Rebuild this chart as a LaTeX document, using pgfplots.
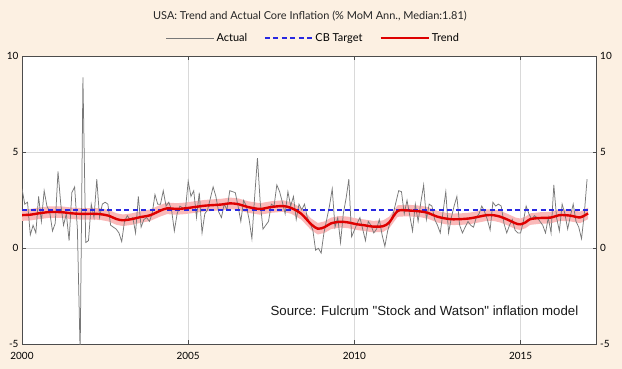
\documentclass[border=0pt]{standalone}
\usepackage{pgfplots}
\pgfplotsset{compat=1.18}
\usepackage{pgfplotstable}
\usepgfplotslibrary{fillbetween}
\usepackage{fontspec}
\setmainfont{Lato}
\newfontfamily\srcfont{Liberation Sans}
\definecolor{bgc}{RGB}{252,240,226}
\definecolor{actc}{RGB}{120,120,120}
\definecolor{tgtc}{RGB}{40,40,225}
\definecolor{trdc}{RGB}{222,0,0}
\definecolor{bandc}{RGB}{250,185,185}
\pagecolor{bgc}

\pgfplotstableread{
m v
0 3.1
1 2.3
2 2.4
3 0.7
4 1.2
5 0.8
6 2.7
7 1.4
8 3.0
9 2.2
10 1.9
11 0.9
12 1.3
13 4.0
14 2.3
15 1.2
16 1.8
17 0.4
18 2.9
19 3.2
20 1.0
21 -5.5
22 8.9
23 0.3
24 0.4
25 2.3
26 1.6
27 3.6
28 1.6
29 2.3
30 2.4
31 2.3
32 1.2
33 1.1
34 1.0
35 0.8
36 0.35
37 1.4
38 1.7
39 1.5
40 1.6
41 0.8
42 2.7
43 1.1
44 1.5
45 1.6
46 1.4
47 1.8
48 2.8
49 2.3
50 2.3
51 3.0
52 2.2
53 2.4
54 2.0
55 0.9
56 1.8
57 2.2
58 2.1
59 2.0
60 3.5
61 2.7
62 3.0
63 1.6
64 2.9
65 0.8
66 1.8
67 2.0
68 2.6
69 3.2
70 2.7
71 1.9
72 1.6
73 2.3
74 2.0
75 3.0
76 2.95
77 2.9
78 2.2
79 1.4
80 2.5
81 2.2
82 1.5
83 0.5
84 2.7
85 4.7
86 2.4
87 1.0
88 1.2
89 1.4
90 2.3
91 2.2
92 3.3
93 2.95
94 2.4
95 1.8
96 2.95
97 2.2
98 2.7
99 1.5
100 2.3
101 2.0
102 2.3
103 1.6
104 1.3
105 0.95
106 -0.1
107 0.0
108 -0.25
109 0.8
110 1.5
111 2.2
112 3.1
113 1.1
114 1.6
115 0.3
116 1.8
117 2.6
118 3.6
119 0.6
120 0.95
121 1.3
122 1.6
123 1.0
124 0.4
125 1.4
126 1.2
127 0.8
128 1.0
129 1.5
130 0.7
131 0.1
132 0.9
133 1.4
134 1.8
135 2.4
136 3.0
137 2.95
138 1.8
139 2.5
140 1.7
141 0.9
142 2.3
143 1.4
144 2.4
145 3.3
146 1.5
147 2.3
148 2.2
149 1.5
150 1.2
151 0.8
152 1.9
153 2.95
154 0.8
155 1.6
156 2.2
157 2.7
158 1.2
159 0.8
160 1.1
161 1.4
162 1.2
163 1.1
164 1.6
165 1.8
166 2.2
167 1.9
168 1.5
169 0.95
170 2.4
171 2.2
172 2.3
173 2.2
174 1.3
175 0.8
176 1.2
177 1.5
178 0.95
179 0.8
180 0.8
181 1.4
182 2.2
183 1.8
184 1.5
185 1.7
186 1.6
187 1.4
188 1.2
189 0.8
190 1.6
191 0.8
192 3.3
193 1.6
194 0.9
195 2.3
196 1.8
197 1.0
198 1.7
199 2.3
200 1.4
201 1.1
202 0.5
203 1.8
204 3.6
}\actual

\pgfplotstableread{
t y
2000.00 1.73
2000.25 1.75
2000.50 1.82
2000.84 1.89
2001.20 1.88
2001.50 1.82
2001.84 1.79
2002.10 1.80
2002.35 1.78
2002.60 1.70
2002.85 1.52
2003.04 1.46
2003.30 1.52
2003.55 1.62
2003.85 1.72
2004.15 1.95
2004.36 2.08
2004.66 2.05
2004.90 2.08
2005.20 2.15
2005.50 2.22
2005.75 2.25
2006.00 2.28
2006.26 2.34
2006.50 2.30
2006.80 2.15
2007.16 2.05
2007.50 2.15
2007.85 2.20
2008.10 2.10
2008.40 1.80
2008.70 1.25
2008.90 1.02
2009.10 1.10
2009.30 1.30
2009.57 1.38
2009.80 1.35
2010.08 1.25
2010.30 1.20
2010.56 1.13
2010.86 1.15
2011.05 1.35
2011.30 1.94
2011.60 1.97
2011.98 1.92
2012.20 1.85
2012.49 1.65
2012.75 1.55
2012.97 1.51
2013.20 1.52
2013.48 1.56
2013.75 1.65
2013.99 1.73
2014.20 1.72
2014.38 1.65
2014.60 1.50
2014.85 1.30
2014.99 1.25
2015.15 1.35
2015.29 1.52
2015.60 1.58
2015.90 1.60
2016.19 1.73
2016.50 1.70
2016.79 1.61
2017.03 1.82
}\trend

\pgfplotstableread{
t y
2000.00 2.0
2017.03 2.0
}\target

\begin{document}
\begin{tikzpicture}
\path (0,0) rectangle (622bp,369bp);
\begin{axis}[
  at={(22bp,24.7bp)}, anchor=south west,
  scale only axis, width=574.7bp, height=288bp,
  xmin=2000, xmax=2017.29, ymin=-5, ymax=10,
  xtick={2000,2005,2010,2015}, ytick={-5,0,5,10},
  /pgf/number format/1000 sep={},
  /pgf/number format/assume math mode=true,
  grid=major, grid style={black!15, line width=0.5bp},
  axis background/.style={fill=white},
  axis line style={black!70, line width=0.6bp},
  tick style={black!70, line width=0.6bp},
  major tick length=4bp,
  tick align=inside,
  xtick pos=both, ytick pos=both,
  yticklabel pos=left,
  ticklabel style={font=\fontsize{10}{12}\selectfont, text=black},
  xticklabel style={yshift=-4bp},
  legend style={at={(0.507,1.0635)}, anchor=center, draw=none, fill=none,
    legend columns=3, font=\fontsize{11}{12}\selectfont,
    /tikz/every even column/.append style={column sep=15bp}},
  legend image code/.code={\draw[#1] (0bp,0bp) -- (48bp,0bp);},
  clip mode=individual,
]
\addplot[name path=up, draw=none, forget plot] table[x=t, y expr=\thisrow{y}+0.3] {\trend};
\addplot[name path=lo, draw=none, forget plot] table[x=t, y expr=\thisrow{y}-0.3] {\trend};
\addplot[fill=bandc, draw=none, forget plot] fill between[of=up and lo];
\addplot[actc, line width=0.75bp] table[x expr=2000+\thisrow{m}/12, y=v] {\actual};
\addlegendentry{Actual}
\addplot[tgtc, line width=1.3bp, dash pattern=on 5bp off 3.5bp, mark=none] table[x=t, y=y] {\target};
\addlegendentry{CB Target}
\addplot[trdc, line width=2.4bp, smooth] table[x=t, y=y] {\trend};
\addlegendentry{Trend}
\node[font=\fontsize{11}{12}\selectfont, text=black!85] at (rel axis cs:0.501,1.139) {USA: Trend and Actual Core Inflation (\% MoM Ann., Median:1.81)};
\node[font=\srcfont\fontsize{13.3}{15}\selectfont, anchor=east, text=black!90] at (rel axis cs:0.974,0.116) {Source: Fulcrum "Stock and Watson" inflation model};
\end{axis}
\begin{axis}[
  at={(22bp,24.7bp)}, anchor=south west,
  scale only axis, width=574.7bp, height=288bp,
  xmin=2000, xmax=2017.29, ymin=-5, ymax=10,
  ytick={-5,0,5,10}, xtick=\empty,
  /pgf/number format/assume math mode=true,
  axis line style={draw=none}, tick style={draw=none},
  yticklabel pos=right,
  ticklabel style={font=\fontsize{10}{12}\selectfont, text=black},
]
\addplot[draw=none, forget plot] coordinates {(2000,0)};
\end{axis}
\end{tikzpicture}
\end{document}
